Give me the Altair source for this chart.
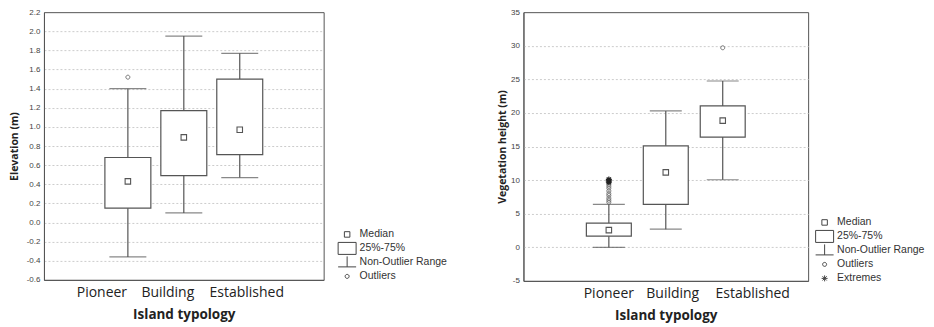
import altair as alt
import pandas as pd

# ---------------- data ----------------
slots = ["", "Pioneer", "Building", "Established", " "]
groups = ["Pioneer", "Building", "Established"]

elev_low = [-0.36, 0.10, 0.47]
elev_q1 = [0.15, 0.49, 0.71]
elev_med = [0.43, 0.89, 0.97]
elev_q3 = [0.68, 1.17, 1.50]
elev_high = [1.40, 1.95, 1.77]
elev_out_group = ["Pioneer"]
elev_out_value = [1.52]
elev_ext_group = []
elev_ext_value = []
elev_ticks = [-0.6, -0.4, -0.2, 0.0, 0.2, 0.4, 0.6, 0.8, 1.0, 1.2, 1.4, 1.6, 1.8, 2.0, 2.2]

veg_low = [0.0, 2.7, 10.05]
veg_q1 = [1.65, 6.4, 16.4]
veg_med = [2.55, 11.15, 18.85]
veg_q3 = [3.6, 15.1, 21.05]
veg_high = [6.4, 20.3, 24.75]
veg_out_group = ["Pioneer"] * 9 + ["Established"]
veg_out_value = [6.7, 7.0, 7.3, 7.7, 8.0, 8.4, 8.8, 9.1, 9.4, 29.7]
veg_ext_group = ["Pioneer", "Pioneer", "Pioneer"]
veg_ext_value = [9.7, 9.9, 10.1]
veg_ticks = [-5, 0, 5, 10, 15, 20, 25, 30, 35]

legend_left = ["Median", "25%-75%", "Non-Outlier Range", "Outliers"]
legend_right = ["Median", "25%-75%", "Non-Outlier Range", "Outliers", "Extremes"]

# ---------------- styles / layout ----------------
INK = "#555555"
SYM = 100  # symbol area; path unit = 5px
SQUARE = "M-0.55,-0.55L0.55,-0.55L0.55,0.55L-0.55,0.55Z"
BOX = "M-1.8,-1.2L1.8,-1.2L1.8,1.2L-1.8,1.2Z"
WHISK = "M0,-1.2L0,0.9M-1.8,0.9L1.8,0.9"
CIRC = "M-0.4,0A0.4,0.4,0,1,0,0.4,0A0.4,0.4,0,1,0,-0.4,0Z"
STAR = "M-0.6,0L0.6,0M0,-0.6L0,0.6M-0.42,-0.42L0.42,0.42M-0.42,0.42L0.42,-0.42"
shape_of = {"Median": SQUARE, "25%-75%": BOX, "Non-Outlier Range": WHISK,
            "Outliers": CIRC, "Extremes": STAR}


def offset_rule(offsets):
    return {"condition": [{"test": "datum.value === '%s'" % k, "value": v}
                          for k, v in offsets.items()],
            "value": 0}


def panel(low, q1, med, q3, high, og, ov, eg, ev, ticks, ytitle, fmt,
          w, h, box_w, cap_w, items, lx, ly, title_pad, label_offsets):
    stats = pd.DataFrame({"g": groups, "low": low, "q1": q1, "med": med,
                          "q3": q3, "high": high})
    outs = pd.DataFrame({"g": og, "v": ov})
    exts = pd.DataFrame({"g": eg, "v": ev})
    leg = pd.DataFrame({"item": items})

    x = alt.X("g:N", scale=alt.Scale(domain=slots, paddingInner=0, paddingOuter=0),
              axis=alt.Axis(title="Island typology", labelAngle=0, ticks=False,
                            domain=True, domainColor=INK, domainWidth=1,
                            labelFont="Open Sans", labelFontSize=14,
                            labelColor="#222", labelPadding=6,
                            labelOffset=offset_rule(label_offsets),
                            titleFont="Open Sans", titleFontSize=13.5,
                            titleFontWeight="bold", titleColor="#222",
                            titlePadding=8))

    edge_test = "datum.value <= %s || datum.value >= %s" % (ticks[0], ticks[-1])

    def Y(field):
        return alt.Y(field, type="quantitative", title=ytitle,
                     scale=alt.Scale(domain=[ticks[0], ticks[-1]], nice=False, zero=False),
                     axis=alt.Axis(values=ticks, ticks=False, domain=True,
                                   domainColor=INK, domainWidth=1,
                                   labelExpr="replace(format(datum.value, '%s'), '\u2212', '-')" % fmt,
                                   labelFont="Liberation Sans", labelFontSize=8,
                                   labelColor="#444", labelPadding=4,
                                   grid=True, gridDash=[2, 2], gridColor="#cccccc",
                                   gridWidth=1,
                                   gridOpacity={"condition": {"test": edge_test, "value": 0},
                                                "value": 1},
                                   titleFont="Open Sans", titleFontSize=10.5,
                                   titleFontWeight="bold", titleColor="#222",
                                   titlePadding=title_pad))

    base = alt.Chart(stats)
    whisker = base.mark_rule(color=INK, strokeWidth=1.2).encode(x=x, y=Y("low"), y2="high")
    caps = base.transform_fold(["low", "high"], as_=["k", "val"]).mark_tick(
        orient="horizontal", size=cap_w, thickness=1.2, color=INK
    ).encode(x=x, y=Y("val"))
    box = base.mark_bar(size=box_w, fill="white", stroke=INK, strokeWidth=1.2).encode(
        x=x, y=Y("q1"), y2="q3")
    median = base.mark_point(shape=SQUARE, size=SYM, filled=False, color=INK,
                             strokeWidth=1.1, opacity=1).encode(x=x, y=Y("med"))
    layers = [whisker, caps, box, median]
    if len(og):
        layers.append(alt.Chart(outs).mark_point(shape=CIRC, size=SYM, filled=False,
                                                  color="#666", strokeWidth=0.9, opacity=1)
                      .encode(x=x, y=Y("v")))
    if len(eg):
        layers.append(alt.Chart(exts).mark_point(shape=STAR, size=SYM, filled=False,
                                                  color="#222", strokeWidth=1.2, opacity=1)
                      .encode(x=x, y=Y("v")))
    legend_layer = alt.Chart(leg).mark_point(size=SYM, filled=False, opacity=0).encode(
        x=alt.value(w / 2), y=alt.value(h / 2),
        shape=alt.Shape("item:N",
                        scale=alt.Scale(domain=items, range=[shape_of[i] for i in items]),
                        legend=alt.Legend(title=None, orient="none", legendX=lx, legendY=ly,
                                          symbolSize=SYM, symbolStrokeColor="#444",
                                          symbolFillColor="white", symbolStrokeWidth=1,
                                          symbolOpacity=1, labelFont="Liberation Sans",
                                          labelFontSize=10.5, labelColor="#333",
                                          gridAlign="all",
                                          rowPadding=-4, labelOffset=7, padding=0)))
    layers.append(legend_layer)
    return alt.layer(*layers).properties(width=w, height=h)


left = panel(elev_low, elev_q1, elev_med, elev_q3, elev_high, elev_out_group,
             elev_out_value, elev_ext_group, elev_ext_value, elev_ticks,
             "Elevation (m)", ".1f", 280, 268, 46, 37, legend_left, 298, 217, 7,
             {"Pioneer": -26, "Building": -16, "Established": 7})
right = panel(veg_low, veg_q1, veg_med, veg_q3, veg_high, veg_out_group,
              veg_out_value, veg_ext_group, veg_ext_value, veg_ticks,
              "Vegetation height (m)", "d", 285, 269, 45, 32, legend_right, 296, 205, 3,
              {"Pioneer": 0, "Building": 7, "Established": 30})

chart = alt.hconcat(left, right, spacing=48).properties(
    padding={"left": 0, "top": -1, "right": 0, "bottom": 0}
).configure_view(stroke=INK, strokeWidth=1).resolve_scale(shape="independent")

chart.save("out.html", embed_options={"renderer": "svg", "actions": False})
